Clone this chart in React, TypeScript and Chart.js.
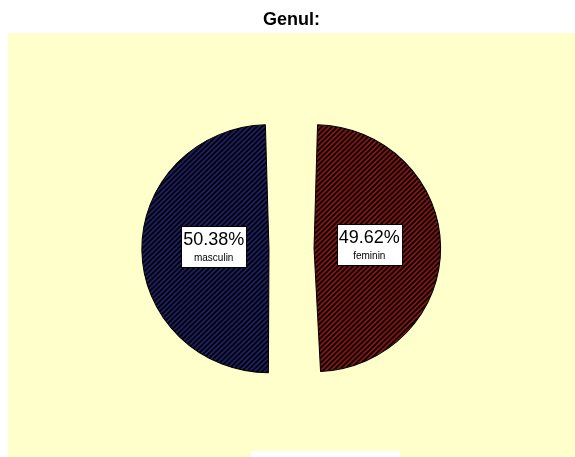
import React, { useEffect, useRef } from 'react';
import { Chart, registerables } from 'chart.js';

Chart.register(...registerables);

const categories: string[] = ['feminin', 'masculin'];
const percentages: number[] = [49.62, 50.38];
const titleText = 'Genul:';

const FONT = '"Liberation Sans", Arial, Helvetica, sans-serif';
const SLICE_COLORS = ['#b01c1c', '#2a2a86'];
const PLOT_BG = '#ffffcc';
const X_STRETCH = 1.025;

function makePattern(color: string): CanvasPattern | string {
  const c = document.createElement('canvas');
  const s = 5;
  c.width = s;
  c.height = s;
  const g = c.getContext('2d');
  if (!g) return color;
  g.fillStyle = color;
  g.fillRect(0, 0, s, s);
  g.strokeStyle = '#000';
  g.lineWidth = 2.1;
  g.beginPath();
  g.moveTo(-1, s + 1);
  g.lineTo(s + 1, -1);
  g.moveTo(-1, 1);
  g.lineTo(1, -1);
  g.moveTo(s - 1, s + 1);
  g.lineTo(s + 1, s - 1);
  g.stroke();
  return g.createPattern(c, 'repeat') || color;
}

const backgroundPlugin = {
  id: 'spssBackground',
  beforeDraw(chart: any) {
    const { ctx, width, height } = chart;
    ctx.save();
    ctx.fillStyle = '#ffffff';
    ctx.fillRect(0, 0, width, height);
    ctx.fillStyle = PLOT_BG;
    ctx.fillRect(0, 25, width, height - 25);
    // legend frame peeking at the bottom
    ctx.fillStyle = '#ffffff';
    ctx.fillRect(243, height - 6, 149, 6);
    ctx.restore();
  },
  beforeDatasetsDraw(chart: any) {
    const { ctx, chartArea } = chart;
    const cx = (chartArea.left + chartArea.right) / 2;
    ctx.save();
    ctx.translate(cx, 0);
    ctx.scale(X_STRETCH, 1);
    ctx.translate(-cx, 0);
  },
  afterDatasetsDraw(chart: any) {
    chart.ctx.restore();
  },
};

const labelPlugin = {
  id: 'spssLabels',
  afterDatasetsDraw(chart: any) {
    const { ctx } = chart;
    const meta = chart.getDatasetMeta(0);
    meta.data.forEach((arc: any, i: number) => {
      const p = arc.getProps(['x', 'y', 'startAngle', 'endAngle', 'outerRadius'], true);
      const off = (arc.options.offset || 0) / 4;
      const R = p.outerRadius + off;
      const mid = (p.startAngle + p.endAngle) / 2;
      const d = off + 0.45 * R;
      const cx = p.x + Math.cos(mid) * d;
      const cy = p.y + Math.sin(mid) * d - 3;
      const pct = percentages[i].toFixed(2) + '%';
      const name = categories[i];
      ctx.save();
      ctx.font = `18px ${FONT}`;
      const w1 = ctx.measureText(pct).width;
      ctx.font = `10px ${FONT}`;
      const w2 = ctx.measureText(name).width;
      const bw = Math.max(w1, w2) + 4;
      const bh = 41;
      const bx = Math.round(cx - bw / 2) + 0.5;
      const by = Math.round(cy - bh / 2) + 0.5;
      ctx.fillStyle = '#ffffff';
      ctx.fillRect(bx, by, bw, bh);
      ctx.strokeStyle = '#000000';
      ctx.lineWidth = 1;
      ctx.strokeRect(bx, by, bw, bh);
      ctx.fillStyle = '#000000';
      ctx.textAlign = 'center';
      ctx.textBaseline = 'middle';
      ctx.font = `18px ${FONT}`;
      ctx.fillText(pct, cx, by + 14);
      ctx.font = `10px ${FONT}`;
      ctx.fillText(name, cx, by + 32);
      ctx.restore();
    });
  },
};

export default function App() {
  const ref = useRef<HTMLCanvasElement | null>(null);

  useEffect(() => {
    const canvas = ref.current;
    if (!canvas) return;
    const patterns = SLICE_COLORS.map((c) => makePattern(c));
    const chart = new Chart(canvas, {
      type: 'pie',
      data: {
        labels: categories,
        datasets: [
          {
            data: percentages,
            backgroundColor: patterns as any,
            borderColor: '#000000',
            borderWidth: 1,
            offset: 88,
          },
        ],
      },
      options: {
        animation: false,
        responsive: false,
        events: [],
        radius: 102,
        layout: { padding: 0 },
        plugins: {
          legend: { display: false },
          tooltip: { enabled: false },
          title: {
            display: true,
            text: titleText,
            color: '#000000',
            font: { family: FONT, size: 18, weight: 'bold' },
            padding: { top: 1, bottom: 9.4 },
          },
        },
      } as any,
      plugins: [backgroundPlugin, labelPlugin],
    });
    return () => chart.destroy();
  }, []);

  return (
    <div style={{ position: 'absolute', left: 8, top: 8, width: 567, height: 449 }}>
      <canvas ref={ref} width={567} height={449} style={{ display: 'block', width: 567, height: 449 }} />
    </div>
  );
}
